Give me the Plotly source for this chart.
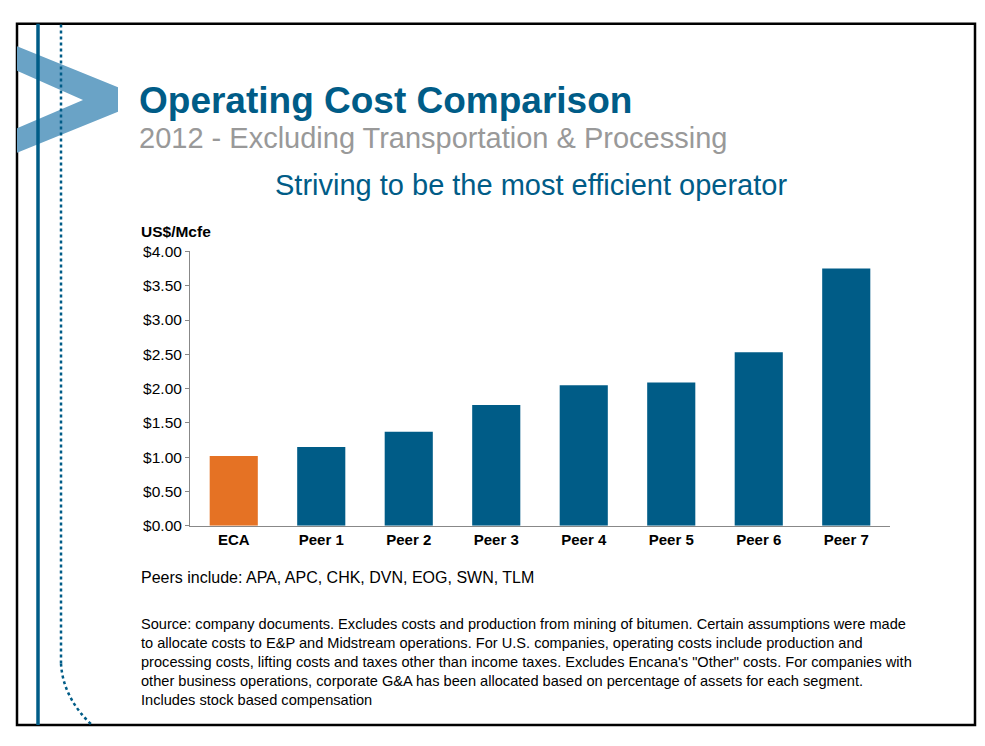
import plotly.graph_objects as go

categories = ["ECA", "Peer 1", "Peer 2", "Peer 3", "Peer 4", "Peer 5", "Peer 6", "Peer 7"]
values = [1.02, 1.15, 1.37, 1.76, 2.05, 2.09, 2.53, 3.75]
colors = ["#E57224"] + ["#005C87"] * 7
tick_vals = [0, 0.5, 1, 1.5, 2, 2.5, 3, 3.5, 4]
tick_text = ["$0.00", "$0.50", "$1.00", "$1.50", "$2.00", "$2.50", "$3.00", "$3.50", "$4.00"]

W, H = 969, 730
OFF = 8
def px(x): return (x - OFF) / W
def py(y): return 1 - (y - OFF) / H

fig = go.Figure(go.Bar(x=categories, y=values, marker=dict(color=colors, line=dict(width=0)), width=0.55))

fig.update_layout(
    width=W, height=H, margin=dict(l=0, r=0, t=0, b=0),
    paper_bgcolor="white", plot_bgcolor="white", showlegend=False,
    font=dict(family="Liberation Sans, Arial", color="black"),
    xaxis=dict(domain=[px(190), px(890)], showline=True, linecolor="#888", linewidth=1,
               tickfont=dict(size=15, color="black", family="Liberation Sans"), ticks="",
               tickprefix="<b>", ticksuffix="</b>"),
    yaxis=dict(domain=[py(529), py(248)], range=[0, 4], tickvals=tick_vals, ticktext=tick_text,
               showline=True, linecolor="#888", linewidth=1, showgrid=False, ticks="outside",
               ticklen=4, tickcolor="#888", tickfont=dict(size=15.5, color="black")),
)

shapes = [
    dict(type="rect", xref="paper", yref="paper", x0=px(17), x1=px(975), y0=py(733), y1=py(15),
         line=dict(color="black", width=2.5)),
    dict(type="path", xref="paper", yref="paper",
         path="M {} {} L {} {} L {} {} L {} {} L {} {} L {} {} L {} {} Z".format(
             px(17), py(38), px(118), py(80), px(118), py(105), px(17), py(147),
             px(17), py(122), px(83), py(93), px(17), py(63)),
         fillcolor="#6AA3C6", line=dict(width=0)),
    dict(type="line", xref="paper", yref="paper", x0=px(38), x1=px(38), y0=py(733), y1=py(15),
         line=dict(color="#005C87", width=3.5)),
    dict(type="line", xref="paper", yref="paper", x0=px(61), x1=px(61), y0=py(670), y1=py(15),
         line=dict(color="#005C87", width=2.5, dash="dot")),
    dict(type="path", xref="paper", yref="paper",
         path="M {} {} Q {} {} {} {}".format(px(61), py(670), px(63), py(705), px(92), py(733)),
         line=dict(color="#005C87", width=2.5, dash="dot")),
]
fig.update_layout(shapes=shapes)

ann = [
    dict(x=px(137), y=py(93), text="<b>Operating Cost Comparison</b>", font=dict(size=37, color="#005C87"), xanchor="left"),
    dict(x=px(137), y=py(132), text="2012 - Excluding Transportation & Processing", font=dict(size=29, color="#999999"), xanchor="left"),
    dict(x=px(531), y=py(180), text="Striving to be the most efficient operator", font=dict(size=29, color="#005C87"), xanchor="center"),
    dict(x=px(139), y=py(228), text="<b>US$/Mcfe</b>", font=dict(size=15.5, color="black"), xanchor="left"),
    dict(x=px(139), y=py(582), text="Peers include: APA, APC, CHK, DVN, EOG, SWN, TLM", font=dict(size=16, color="black"), xanchor="left"),
    dict(x=px(139), y=py(619), yanchor="top", align="left",
         text="Source: company documents. Excludes costs and production from mining of bitumen. Certain assumptions were made<br>"
              "to allocate costs to E&P and Midstream operations. For U.S. companies, operating costs include production and<br>"
              "processing costs, lifting costs and taxes other than income taxes. Excludes Encana's \"Other\" costs. For companies with<br>"
              "other business operations, corporate G&A has been allocated based on percentage of assets for each segment.<br>"
              "Includes stock based compensation",
         font=dict(size=14.6, color="black"), xanchor="left"),
]
for a in ann:
    a.update(xref="paper", yref="paper", showarrow=False)
    a.setdefault("yanchor", "middle")
fig.update_layout(annotations=ann)

fig.write_html("out.html")
